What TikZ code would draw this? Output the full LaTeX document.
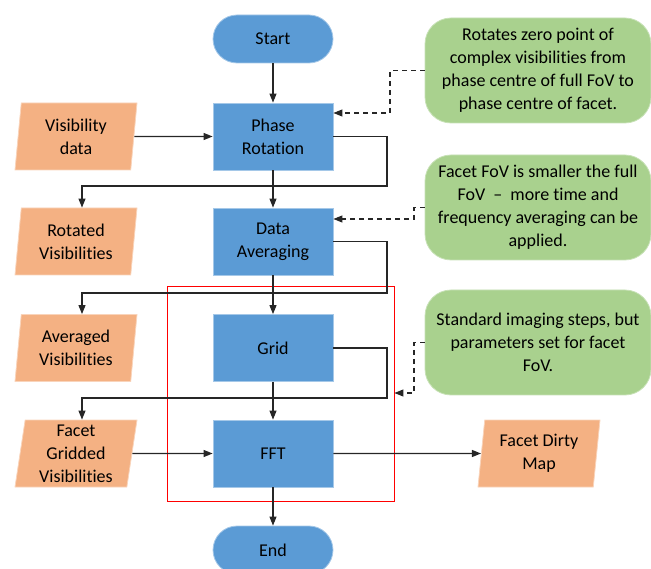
\documentclass[tikz,border=0pt]{standalone}
\usepackage{fontspec}
\setmainfont{Carlito}[RawFeature={-liga;-clig;-dlig}]
\usetikzlibrary{arrows.meta,shapes.geometric}
\definecolor{bfill}{HTML}{5B9BD5}
\definecolor{ofill}{HTML}{F4B183}
\definecolor{gfill}{HTML}{A9D18E}
\begin{document}
\begin{tikzpicture}[x=1pt,y=-1pt,font=\fontsize{18}{23}\selectfont,
  proc/.style={rectangle,fill=bfill,draw=bfill!55!white,line width=0.8pt,minimum width=120pt,minimum height=67pt,align=center,inner sep=0pt},
  term/.style={proc,rounded corners=24pt,minimum height=48pt},
  io/.style={trapezium,trapezium left angle=80,trapezium right angle=100,trapezium stretches body,fill=ofill,draw=ofill!55!white,line width=0.8pt,minimum width=122pt,minimum height=67pt,align=center,inner sep=0pt},
  note/.style={rectangle,rounded corners=26pt,fill=gfill,draw=gfill!65!white,line width=0.8pt,minimum width=226pt,minimum height=105pt,align=center,inner sep=0pt},
  arr/.style={-{Triangle[length=9pt,width=7pt]},line width=1.1pt,draw=black!85},
  darr/.style={arr,dash pattern=on 5pt off 4pt}]
\clip (0,0) rectangle (651,569);
\node[draw=red,line width=0.9pt,minimum width=227pt,minimum height=215pt,inner sep=0pt] (frame) at (280.5,393.5) {};
\node[term] (start) at (273,39) {Start};
\node[proc] (phase) at (273,136.5) {Phase\\Rotation};
\node[proc] (avg) at (273,241.5) {Data\\Averaging};
\node[proc] (grid) at (273,348) {Grid};
\node[proc] (fft) at (273,453.5) {FFT};
\node[term] (end) at (273,550) {End};
\node[io] (vis) at (76,136.5) {Visibility\\data};
\node[io] (rot) at (76,241.5) {Rotated\\Visibilities};
\node[io] (avv) at (76,348) {Averaged\\Visibilities};
\node[io] (fgv) at (76,453.5) {Facet\\Gridded\\Visibilities};
\node[io] (map) at (539,453.5) {Facet Dirty\\Map};
\node[note] (n1) at (538,70.5) {Rotates zero point of\\complex visibilities from\\phase centre of full FoV to\\phase centre of facet.};
\node[note] (n2) at (538,207.5) {Facet FoV is smaller the full\\FoV \ – \ more time and\\frequency averaging can be\\applied.};
\node[note] (n3) at (538,342.5) {Standard imaging steps, but\\parameters set for facet\\FoV.};
\draw[arr] (start) -- (phase);
\draw[arr] (phase) -- (avg);
\draw[arr] (avg) -- (grid);
\draw[arr] (grid) -- (fft);
\draw[arr] (fft) -- (end);
\draw[arr] (vis) -- (phase);
\draw[arr] (fgv) -- (fft);
\draw[arr] (fft) -- (map);
\coordinate (lx) at (82,0);
\coordinate (c1) at (387,186);
\coordinate (c2) at (387,293);
\coordinate (c3) at (387,398);
\draw[arr] (phase.east) -| (c1) -- (c1 -| lx) -- (rot.north -| lx);
\draw[arr] (avg.east) -| (c2) -- (c2 -| lx) -- (avv.north -| lx);
\draw[arr] (grid.east) -| (c3) -- (c3 -| lx) -- (fgv.north -| lx);
\coordinate (d1) at (390,113);
\coordinate (d2) at (414,219);
\coordinate (d3) at (414,393);
\draw[darr] (n1.west) -| (d1) -- (d1 -| phase.east);
\draw[darr] (n2.west) -| (d2) -- (d2 -| avg.east);
\draw[darr] (n3.west) -| (d3) -- (d3 -| frame.east);
\end{tikzpicture}
\end{document}
